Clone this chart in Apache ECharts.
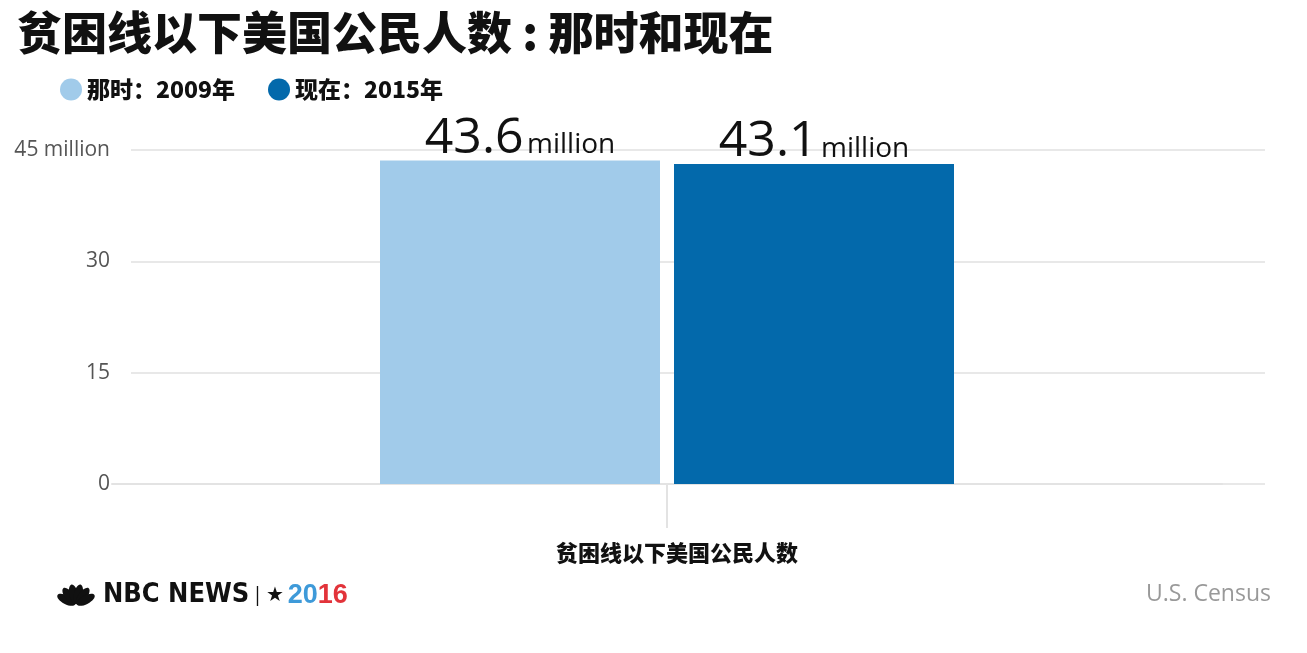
<!DOCTYPE html>
<html>
<head>
<meta charset="utf-8">
<script src="https://cdn.jsdelivr.net/npm/echarts@6/dist/echarts.min.js"></script>
<style>
  html, body { margin: 0; padding: 0; background: #fff; }
  #main { width: 1307px; height: 653px; }
</style>
</head>
<body>
<div id="main"></div>
<script>
const categories = ['贫困线以下美国公民人数']
const seriesNames = ['那时：2009年', '现在：2015年']
const thenValues = [43.6]
const nowValues = [43.1]
const yTicks = [0, 15, 30, 45]

const cjk = '"Noto Sans CJK SC", sans-serif'
const latin = '"Open Sans", sans-serif'

const chart = echarts.init(document.getElementById('main'))

function barLabel() {
  return {
    show: true,
    position: 'top',
    distance: -3,
    formatter: p => '{a|' + p.value + '} {b|million}',
    rich: {
      a: { fontSize: 50, fontFamily: latin, color: '#111', verticalAlign: 'bottom' },
      b: { fontSize: 28, fontFamily: latin, color: '#111', verticalAlign: 'bottom', padding: [0, 0, 4, 0] }
    }
  }
}

// peacock feathers for the logo
const feathers = []
for (let i = 0; i < 6; i++) {
  const ang = (-62 + i * 24.8) * Math.PI / 180
  feathers.push({
    type: 'ellipse',
    shape: { cx: 0, cy: -11, rx: 4.3, ry: 10 },
    x: 76, y: 605,
    rotation: -ang,
    style: { fill: '#111' }
  })
}

let option = {
  backgroundColor: '#fff',
  title: {
    text: '贫困线以下美国公民人数 : 那时和现在',
    left: 12,
    top: 5,
    textStyle: { fontFamily: cjk, fontSize: 45, fontWeight: 900, color: '#111' }
  },
  legend: {
    left: 55,
    top: 73,
    icon: 'circle',
    itemWidth: 22,
    itemHeight: 22,
    itemGap: 33,
    data: seriesNames,
    textStyle: { fontFamily: cjk, fontSize: 23, fontWeight: 900, color: '#111' }
  },
  grid: [
    { left: 112, right: 85, top: 150, bottom: 169 },
    { left: 131, right: 42, top: 150, bottom: 169 }
  ],
  xAxis: [
    {
      type: 'category',
      gridIndex: 0,
      data: categories,
      axisLine: { lineStyle: { color: '#e3e3e3', width: 2 } },
      axisTick: { show: true, interval: 0, alignWithLabel: true, length: 44, lineStyle: { color: '#e3e3e3', width: 2 } },
      axisLabel: { interval: 0, margin: 58, fontFamily: cjk, fontSize: 22, fontWeight: 900, color: '#111', padding: [0, 0, 0, 20] }
    },
    {
      type: 'category',
      gridIndex: 1,
      data: categories,
      show: false
    }
  ],
  yAxis: [
    { type: 'value', gridIndex: 0, min: 0, max: 45, interval: 15, show: false },
    {
      type: 'value',
      gridIndex: 1,
      min: yTicks[0],
      max: yTicks[yTicks.length - 1],
      interval: 15,
      axisLine: { show: false },
      axisTick: { show: false },
      splitLine: { lineStyle: { color: '#e8e8e8', width: 2 } },
      axisLabel: {
        margin: 21,
        fontFamily: latin,
        fontSize: 21,
        color: '#555',
        formatter: v => v === 45 ? '45 million' : String(v)
      }
    }
  ],
  series: [
    {
      name: seriesNames[0],
      type: 'bar',
      xAxisIndex: 0,
      yAxisIndex: 0,
      data: thenValues,
      barWidth: 280,
      barGap: '5%',
      itemStyle: { color: '#a1cbea' },
      label: barLabel(),
      z: 3
    },
    {
      name: seriesNames[1],
      type: 'bar',
      xAxisIndex: 0,
      yAxisIndex: 0,
      data: nowValues,
      barWidth: 280,
      itemStyle: { color: '#0369ab' },
      label: barLabel(),
      z: 3
    }
  ],
  graphic: [
    { type: 'group', children: feathers },
    {
      type: 'text',
      left: 103,
      top: 581,
      style: {
        text: 'NBC NEWS',
        fontFamily: '"Liberation Sans Narrow", "DejaVu Sans Condensed", sans-serif',
        fontSize: 27,
        fontWeight: 'bold',
        fill: '#111'
      }
    },
    {
      type: 'text',
      left: 252,
      top: 582,
      style: {
        text: '{s||} {s|★} {b|20}{r|16}',
        rich: {
          s: { fontFamily: latin, fontSize: 20, fill: '#111' },
          b: { fontFamily: '"Liberation Sans Narrow", sans-serif', fontSize: 27, fontWeight: 'bold', fill: '#3e9ad9' },
          r: { fontFamily: '"Liberation Sans Narrow", sans-serif', fontSize: 27, fontWeight: 'bold', fill: '#e2333a' }
        }
      }
    },
    {
      type: 'text',
      right: 36,
      top: 583,
      style: {
        text: 'U.S. Census',
        fontFamily: latin,
        fontSize: 23,
        fill: '#999'
      }
    }
  ]
}

chart.setOption(option)
</script>
</body>
</html>
